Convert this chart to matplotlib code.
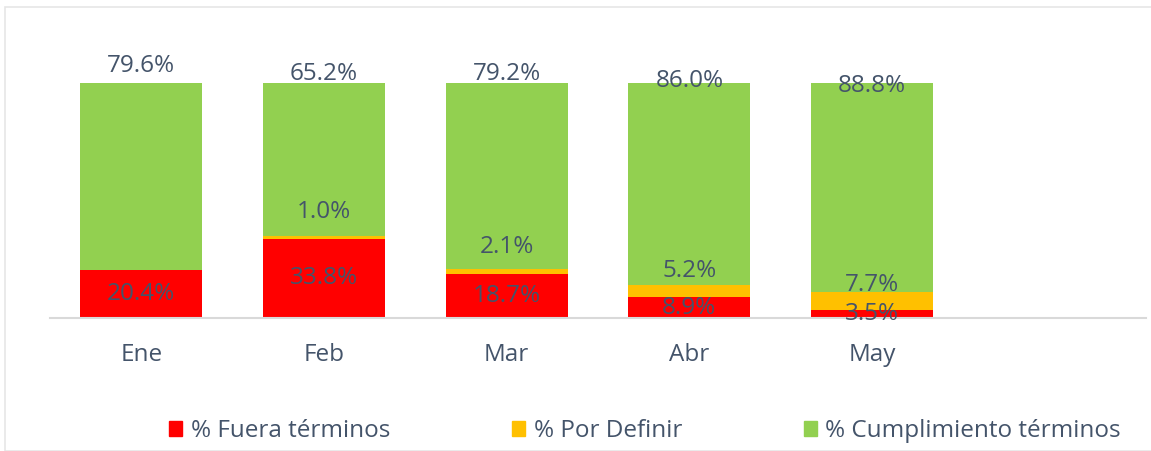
import numpy as np
import matplotlib
matplotlib.use('Agg')
import matplotlib.pyplot as plt
from matplotlib.patches import Patch, Rectangle

# data
meses = ['Ene', 'Feb', 'Mar', 'Abr', 'May']
fuera = [20.4, 33.8, 18.7, 8.9, 3.5]          # % Fuera términos
por_definir = [0.0, 1.0, 2.1, 5.2, 7.7]       # % Por Definir
cumplimiento = [79.6, 65.2, 79.2, 86.0, 88.8]  # % Cumplimiento términos
series_names = ['% Fuera términos', '% Por Definir', '% Cumplimiento términos']

# label nudges (pixels) to follow the hand placed labels of the original
dy_amarillo = [0, 24, 22, 14, 7]
dy_verde = [17, 9, 9, 2, -3]

ROJO = '#FF0000'
AMARILLO = '#FFC000'
VERDE = '#92D050'
TXT = '#44546A'

plt.rcParams['font.family'] = ['Open Sans', 'DejaVu Sans']
FS = 17.5

fig = plt.figure(figsize=(11.51, 4.51), dpi=100)
W, H = 1151, 451
ax = fig.add_axes([50 / W, 1 - 318 / H, (1146 - 50) / W, 235 / H])

x = np.arange(len(meses))
fuera = np.array(fuera)
por_definir = np.array(por_definir)
cumplimiento = np.array(cumplimiento)
ancho = 0.667

b1 = ax.bar(x, fuera, ancho, color=ROJO, label=series_names[0])
b2 = ax.bar(x, por_definir, ancho, bottom=fuera, color=AMARILLO, label=series_names[1])
b3 = ax.bar(x, cumplimiento, ancho, bottom=fuera + por_definir, color=VERDE, label=series_names[2])

for i in range(len(meses)):
    # red: centered in segment
    ax.annotate('{:.1f}%'.format(fuera[i]), (x[i], fuera[i] / 2), ha='center', va='center',
                fontsize=FS, color=TXT, annotation_clip=False)
    # yellow: above its segment
    if por_definir[i] > 0:
        ax.annotate('{:.1f}%'.format(por_definir[i]), (x[i], fuera[i] + por_definir[i]),
                    xytext=(0, dy_amarillo[i]), textcoords='offset pixels',
                    ha='center', va='center', fontsize=FS, color=TXT, annotation_clip=False)
    # green: above the bar
    ax.annotate('{:.1f}%'.format(cumplimiento[i]), (x[i], 100),
                xytext=(0, dy_verde[i]), textcoords='offset pixels',
                ha='center', va='center', fontsize=FS, color=TXT, annotation_clip=False)

ax.set_xlim(-0.5, 5.5)
ax.set_ylim(0, 100)
ax.set_xticks(x)
ax.set_xticklabels(meses, fontsize=FS, color=TXT)
ax.tick_params(axis='x', length=0, pad=18)
ax.set_yticks([])
for s in ['top', 'right', 'left']:
    ax.spines[s].set_visible(False)
ax.spines['bottom'].set_color('#D9D9D9')
ax.spines['bottom'].set_linewidth(1.5)

handles = [Patch(color=ROJO), Patch(color=AMARILLO), Patch(color=VERDE)]
fig.legend(handles, series_names, loc='center', bbox_to_anchor=(645 / W, 1 - 431 / H),
           ncol=3, frameon=False, fontsize=FS, labelcolor=TXT,
           handlelength=0.55, handleheight=0.55, handletextpad=0.35, columnspacing=5.0)

# light outer frame of the chart area
fig.patches.append(Rectangle((5 / W, 0), 1.1, 1 - 7 / H, transform=fig.transFigure,
                             fill=False, edgecolor='#E6E6E6', linewidth=1.2))

fig.savefig('out.png', dpi=100)
